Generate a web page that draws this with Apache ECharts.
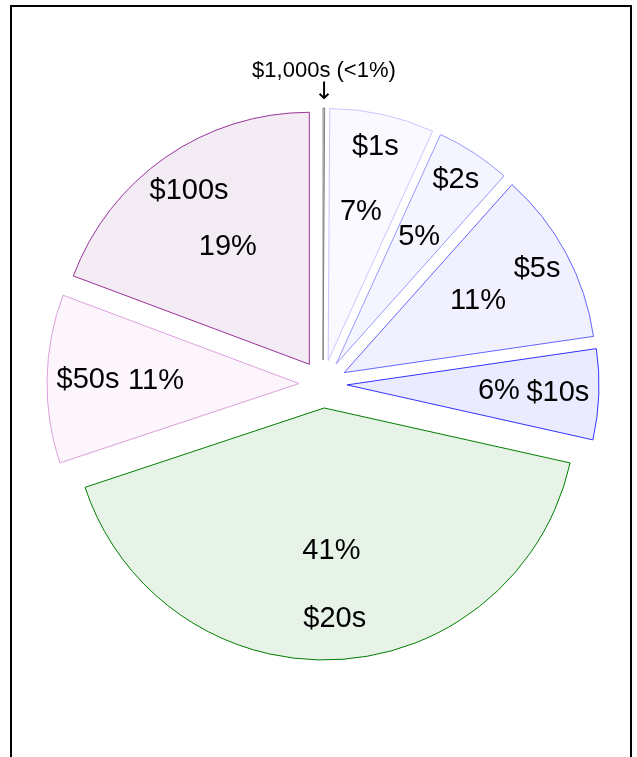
<!DOCTYPE html>
<html>
<head>
<meta charset="utf-8">
<script src="https://cdn.jsdelivr.net/npm/echarts@6/dist/echarts.min.js"></script>
<style>
  html, body { margin: 0; padding: 0; background: #fff; }
  #chart { width: 637px; height: 757px; }
</style>
</head>
<body>
<div id="chart"></div>
<script>
// Share of bills by denomination (%), clockwise from 12 o'clock
const denominations = ['$1,000s', '$1s', '$2s', '$5s', '$10s', '$20s', '$50s', '$100s'];
const shares = [0.1, 6.7, 4.8, 11.1, 5.8, 41.4, 10.8, 19.3];
const smallLabel = '$1,000s (<1%)';

const edgeColors = ['#7f7f7f', '#c8c8ff', '#9999ff', '#6666ff', '#3333ff', '#008000', '#dda0dd', '#993399'];
const fillColors = ['#f4f4f4', '#f9f9ff', '#f5f5ff', '#f0f0ff', '#ebebff', '#e8f3e8', '#fcf5fc', '#f4ecf4'];

function initChart() {
  const chart = echarts.init(document.getElementById('chart'));

  const center = [323, 384];
  const offset = 24;
  const font = { fontFamily: 'Liberation Sans, Arial, sans-serif', color: '#000' };

  // every layer uses the same slices, all pulled out from the center
  const pieBase = {
    type: 'pie',
    center: center,
    startAngle: 90,
    clockwise: true,
    selectedMode: 'multiple',
    selectedOffset: offset,
    avoidLabelOverlap: false,
    labelLine: { show: false },
    silent: true
  };

  const slices = denominations.map((name, i) => {
    const style = { color: fillColors[i], borderColor: edgeColors[i], borderWidth: 1 };
    return { name, value: shares[i], selected: true, itemStyle: style, select: { itemStyle: style } };
  });

  // invisible rings that only carry labels at a given distance
  const labelRing = (radius, showFn, formatter, extra) => Object.assign({}, pieBase, {
    radius: radius,
    z: 3,
    percentPrecision: 0,
    data: denominations.map((name, i) => {
      const clear = { color: 'rgba(0,0,0,0)', borderWidth: 0 };
      return {
        name, value: shares[i], selected: true,
        itemStyle: clear, select: { itemStyle: clear },
        label: { show: showFn(i) }
      };
    }),
    label: Object.assign({ position: 'inside', formatter: formatter, fontSize: 29 }, font, extra || {})
  });

  // the right hand slices carry their labels a bit further out than the rest
  const farName = i => i >= 1 && i <= 3;
  const nearName = i => i >= 4;
  const farPct = i => i >= 1 && i <= 4;
  const nearPct = i => i >= 5;

  const option = {
    animation: false,
    backgroundColor: '#fff',
    graphic: [{
      type: 'rect',
      silent: true,
      shape: { x: 11, y: 6, width: 620, height: 800 },
      style: { fill: 'none', stroke: '#000', lineWidth: 2 }
    }],
    series: [
      Object.assign({}, pieBase, { radius: 252, label: { show: false }, data: slices }),
      labelRing([201, 231], farName, '{b}'),
      labelRing([134, 164], farPct, '{d}%'),
      labelRing([193, 223], nearName, '{b}'),
      labelRing([125, 155], nearPct, '{d}%'),
      labelRing([261, 291], i => i === 0, '{a|' + smallLabel + '}\n{b|↓}', {
        rich: {
          a: { fontSize: 22, lineHeight: 24, fontFamily: 'Liberation Sans, Arial, sans-serif', color: '#000' },
          b: { fontSize: 24, lineHeight: 20, fontFamily: 'DejaVu Sans, sans-serif', color: '#000' }
        }
      })
    ]
  };

  chart.setOption(option);
}

document.addEventListener('DOMContentLoaded', initChart);
</script>
</body>
</html>
